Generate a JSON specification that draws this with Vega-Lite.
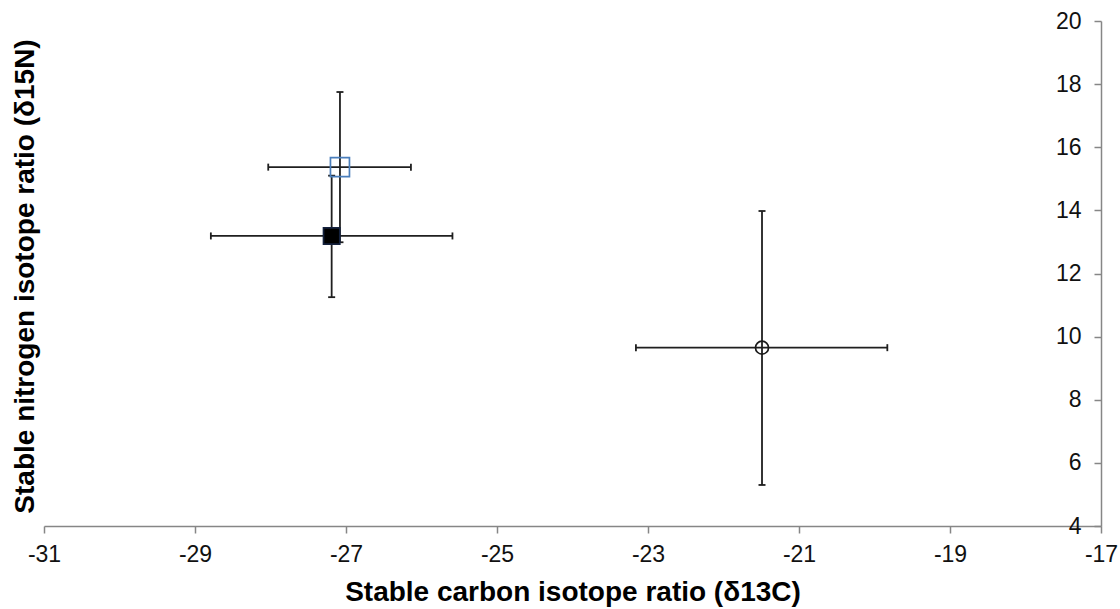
{
  "$schema": "https://vega.github.io/schema/vega-lite/v6.json",
  "width": 1057,
  "height": 505,
  "autosize": {"type": "none"},
  "padding": {"left": 44, "top": 21, "right": 19, "bottom": 83},
  "background": "white",
  "config": {"view": {"stroke": null}, "font": "Liberation Sans"},
  "data": {
    "values": [
      {"group": "A", "x": -27.08, "y": 15.37, "xlo": -28.03, "xhi": -26.14, "ylo": 12.99, "yhi": 17.75},
      {"group": "B", "x": -27.19, "y": 13.19, "xlo": -28.79, "xhi": -25.59, "ylo": 11.25, "yhi": 15.10},
      {"group": "C", "x": -21.49, "y": 9.65, "xlo": -23.16, "xhi": -19.83, "ylo": 5.30, "yhi": 13.98}
    ]
  },
  "layer": [
    {
      "mark": {"type": "rule", "color": "#1f1f1f", "strokeWidth": 1.8},
      "encoding": {
        "x": {
          "field": "xlo", "type": "quantitative",
          "scale": {"domain": [-31, -17], "nice": false, "zero": false},
          "axis": {
            "orient": "bottom",
            "values": [-31, -29, -27, -25, -23, -21, -19, -17],
            "labelExpr": "'' + datum.value",
            "grid": false,
            "title": "Stable carbon isotope ratio (δ13C)",
            "titleFont": "Liberation Sans",
            "titleFontSize": 28,
            "titleFontWeight": "bold",
            "titleColor": "#000000",
            "titleY": 66,
            "titleBaseline": "middle",
            "labelFont": "Liberation Sans",
            "labelFontSize": 23,
            "labelColor": "#111111",
            "labelPadding": 10,
            "labelFlush": false,
            "labelOverlap": false,
            "tickSize": 7,
            "tickColor": "#868686",
            "tickWidth": 1.5,
            "domainColor": "#868686",
            "domainWidth": 1.5
          }
        },
        "x2": {"field": "xhi"},
        "y": {
          "field": "y", "type": "quantitative",
          "scale": {"domain": [4, 20], "nice": false, "zero": false},
          "axis": {
            "orient": "left",
            "offset": -1057,
            "values": [4, 6, 8, 10, 12, 14, 16, 18, 20],
            "labelExpr": "'' + datum.value",
            "grid": false,
            "title": "Stable nitrogen isotope ratio (δ15N)",
            "titleFont": "Liberation Sans",
            "titleFontSize": 28,
            "titleFontWeight": "bold",
            "titleColor": "#000000",
            "titleAngle": -90,
            "titleX": -1076,
            "titleY": 255,
            "titleAlign": "center",
            "titleBaseline": "middle",
            "labelFont": "Liberation Sans",
            "labelFontSize": 23,
            "labelColor": "#111111",
            "labelPadding": 13,
            "labelFlush": false,
            "labelOverlap": false,
            "tickSize": 7,
            "tickColor": "#868686",
            "tickWidth": 1.5,
            "domainColor": "#868686",
            "domainWidth": 1.5
          }
        }
      }
    },
    {
      "mark": {"type": "rule", "color": "#1f1f1f", "strokeWidth": 1.8},
      "encoding": {
        "x": {"field": "x", "type": "quantitative"},
        "y": {"field": "ylo", "type": "quantitative"},
        "y2": {"field": "yhi"}
      }
    },
    {
      "mark": {"type": "tick", "orient": "vertical", "size": 7, "thickness": 1.8, "color": "#1f1f1f", "opacity": 1},
      "encoding": {
        "x": {"field": "xlo", "type": "quantitative"},
        "y": {"field": "y", "type": "quantitative"}
      }
    },
    {
      "mark": {"type": "tick", "orient": "vertical", "size": 7, "thickness": 1.8, "color": "#1f1f1f", "opacity": 1},
      "encoding": {
        "x": {"field": "xhi", "type": "quantitative"},
        "y": {"field": "y", "type": "quantitative"}
      }
    },
    {
      "mark": {"type": "tick", "orient": "horizontal", "size": 7, "thickness": 1.8, "color": "#1f1f1f", "opacity": 1},
      "encoding": {
        "x": {"field": "x", "type": "quantitative"},
        "y": {"field": "ylo", "type": "quantitative"}
      }
    },
    {
      "mark": {"type": "tick", "orient": "horizontal", "size": 7, "thickness": 1.8, "color": "#1f1f1f", "opacity": 1},
      "encoding": {
        "x": {"field": "x", "type": "quantitative"},
        "y": {"field": "yhi", "type": "quantitative"}
      }
    },
    {
      "mark": {"type": "point", "filled": true, "strokeWidth": 1.7, "opacity": 1, "fillOpacity": 1, "strokeOpacity": 1},
      "encoding": {
        "x": {"field": "x", "type": "quantitative"},
        "y": {"field": "y", "type": "quantitative"},
        "shape": {"field": "group", "type": "nominal", "scale": {"domain": ["A", "B", "C"], "range": ["square", "square", "circle"]}, "legend": null},
        "size": {"field": "group", "type": "ordinal", "scale": {"domain": ["A", "B", "C"], "range": [361, 169, 441]}, "legend": null},
        "stroke": {"field": "group", "type": "nominal", "scale": {"domain": ["A", "B", "C"], "range": ["#4a7ebb", "#14213d", "#1a1a1a"]}, "legend": null},
        "fill": {"field": "group", "type": "nominal", "scale": {"domain": ["A", "B", "C"], "range": ["transparent", "#000000", "transparent"]}, "legend": null}
      }
    }
  ]
}
